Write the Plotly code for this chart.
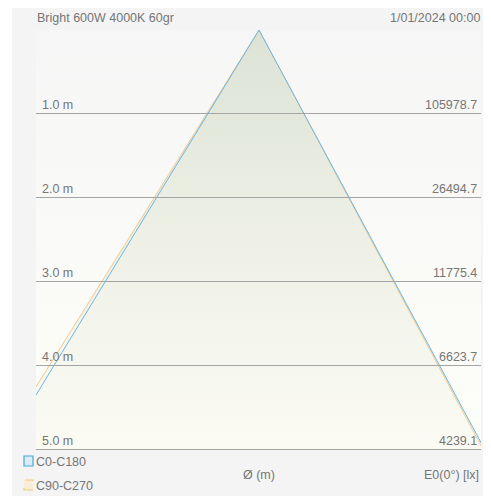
import plotly.graph_objects as go

# ---- data ----
title_left = "Bright 600W 4000K 60gr"
title_right = "1/01/2024 00:00"
heights_m = [1.0, 2.0, 3.0, 4.0, 5.0]
height_labels = ["1.0 m", "2.0 m", "3.0 m", "4.0 m", "5.0 m"]
lux_values = ["105978.7", "26494.7", "11775.4", "6623.7", "4239.1"]
# beam edges (x offset in m): left at 5 m, apex, right at 5 m
c0_x = [-3.055, 0.0, 2.69]
c0_y = [5.0, 0.0, 5.0]
c90_x = [-3.125, 0.0, 2.67]
c90_y = [5.0, 0.0, 5.0]
series_names = ["C0-C180", "C90-C270"]

OFF = 8  # page body margin
W, H = 491 - OFF, 496 - OFF
L, R, T, B = 36 - OFF, 10, 30 - OFF, 46
PW, PH = W - L - R, H - T - B
XMIN, XMAX = -223 / 84, 222 / 84

def px(x):
    return (x - OFF - L) / PW

def py(y):
    return (H - B - (y - OFF)) / PH

FONT = "Liberation Sans, Arial, sans-serif"
TXT = "#767676"
FS = 12.5

fig = go.Figure()

# plot background gradient
fig.add_trace(go.Scatter(
    x=[XMIN, XMAX, XMAX, XMIN, XMIN], y=[0, 0, 5, 5, 0], mode="lines",
    line=dict(width=0), fill="toself",
    fillgradient=dict(type="vertical", start=0, stop=5,
                      colorscale=[[0, "#f6f6f6"], [1, "#fdfdf9"]]),
    hoverinfo="skip", showlegend=False))

# beam fill
fig.add_trace(go.Scatter(
    x=[c90_x[0], c0_x[1], c0_x[2], c90_x[0]], y=[c90_y[0], c0_y[1], c0_y[2], c90_y[0]],
    mode="lines", line=dict(width=0), fill="toself",
    fillgradient=dict(type="vertical", start=0, stop=5,
                      colorscale=[[0, "#dce3d5"], [0.5, "#eef0e6"], [1, "#fbfbf3"]]),
    hoverinfo="skip", showlegend=False))

fig.add_trace(go.Scatter(x=c90_x, y=c90_y, mode="lines", name=series_names[1],
                         line=dict(color="#f2c98c", width=1), showlegend=False))
fig.add_trace(go.Scatter(x=c0_x, y=c0_y, mode="lines", name=series_names[0],
                         line=dict(color="#6cb6e2", width=1), showlegend=False))

shapes = []
# left white strip
shapes.append(dict(type="rect", xref="paper", yref="paper", x0=px(OFF), x1=px(12),
                   y0=py(H + OFF), y1=py(OFF), fillcolor="#ffffff", line=dict(width=0),
                   layer="below"))
# horizontal height lines (pixel-snapped)
for h in heights_m:
    shapes.append(dict(type="line", xref="paper", yref="y", x0=0, x1=1,
                       ysizemode="pixel", yanchor=h, y0=0.5, y1=0.5,
                       line=dict(color="#a4a4a4", width=1), layer="above"))

annotations = []
for h, lab, lx in zip(heights_m, height_labels, lux_values):
    annotations.append(dict(x=px(40), y=h, xref="paper", yref="y", text=lab, showarrow=False,
                            xanchor="left", yanchor="bottom", yshift=0,
                            font=dict(family=FONT, size=FS, color=TXT)))
    annotations.append(dict(x=px(479), y=h, xref="paper", yref="y", text=lx, showarrow=False,
                            xanchor="right", yanchor="bottom", yshift=0,
                            font=dict(family=FONT, size=FS, color=TXT)))

annotations.append(dict(x=px(35), y=py(18), xref="paper", yref="paper", text=title_left,
                        showarrow=False, xanchor="left", yanchor="middle",
                        font=dict(family=FONT, size=FS, color=TXT)))
annotations.append(dict(x=px(482), y=py(18), xref="paper", yref="paper", text=title_right,
                        showarrow=False, xanchor="right", yanchor="middle",
                        font=dict(family=FONT, size=FS, color=TXT)))
annotations.append(dict(x=px(258.5), y=py(475), xref="paper", yref="paper", text="Ø (m)",
                        showarrow=False, xanchor="center", yanchor="middle",
                        font=dict(family=FONT, size=FS, color=TXT)))
annotations.append(dict(x=px(481), y=py(475), xref="paper", yref="paper", text="E0(0°) [lx]",
                        showarrow=False, xanchor="right", yanchor="middle",
                        font=dict(family=FONT, size=FS, color=TXT)))

# legend
leg = [(series_names[0], "#4da6d9", "rgba(200,230,247,0.6)", 461, "solid"),
       (series_names[1], "#f2c880", "rgba(252,232,195,0.6)", 485, "dash")]
for name, lc, fc, yc, dash in leg:
    shapes.append(dict(type="rect", xref="paper", yref="paper", x0=px(24), x1=px(33),
                       y0=py(yc + 5), y1=py(yc - 5), fillcolor=fc,
                       line=dict(color=lc, width=1.2, dash=dash)))
    annotations.append(dict(x=px(34), y=py(yc + 1), xref="paper", yref="paper", text=name,
                            showarrow=False, xanchor="left", yanchor="middle",
                            font=dict(family=FONT, size=FS, color=TXT)))

fig.update_layout(
    width=W, height=H, margin=dict(l=L, r=R, t=T, b=B),
    paper_bgcolor="#f4f4f4", plot_bgcolor="rgba(0,0,0,0)",
    xaxis=dict(range=[XMIN, XMAX], showgrid=False, zeroline=False, showticklabels=False,
               showline=False, fixedrange=True),
    yaxis=dict(range=[5, 0], showgrid=False, zeroline=False, showticklabels=False,
               showline=False, fixedrange=True),
    shapes=shapes, annotations=annotations, showlegend=False,
)

fig.write_html("out.html")
